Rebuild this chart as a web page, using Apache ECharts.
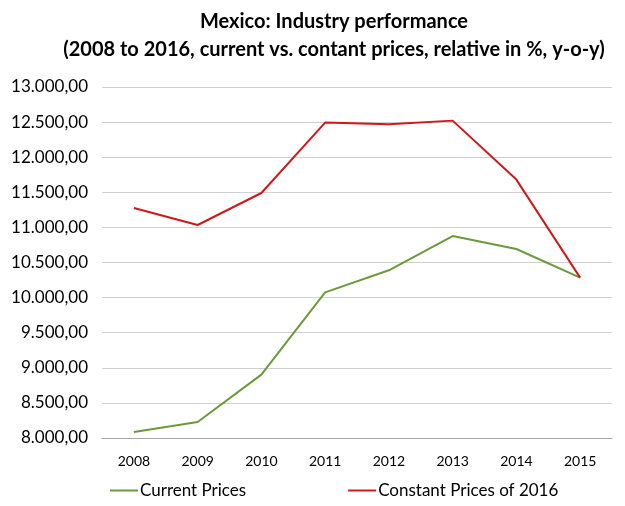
<!DOCTYPE html>
<html>
<head>
<meta charset="utf-8">
<script src="https://cdn.jsdelivr.net/npm/echarts@6/dist/echarts.min.js"></script>
<style>
  html, body { margin: 0; padding: 0; background: #fff; }
  #chart { width: 625px; height: 506px; }
</style>
</head>
<body>
<div id="chart"></div>
<script>
// data
var years = ['2008', '2009', '2010', '2011', '2012', '2013', '2014', '2015'];
var currentPrices = [8085, 8228, 8903, 10075, 10389, 10877, 10692, 10285];
var constantPrices = [11276, 11034, 11490, 12493, 12469, 12521, 11681, 10285];

// 13000 -> "13.000,00"
function fmt(v) {
  var s = Math.round(v).toString().replace(/\B(?=(\d{3})+(?!\d))/g, '.');
  return s + ',00';
}

var chart = echarts.init(document.getElementById('chart'));
chart.setOption({
  animation: false,
  textStyle: { fontFamily: 'Lato' },
  title: {
    text: 'Mexico: Industry performance\n(2008 to 2016, current vs. contant prices, relative in %, y-o-y)',
    left: 329,
    textAlign: 'center',
    top: 3,
    textStyle: { fontSize: 20, fontWeight: 'bold', color: '#000', lineHeight: 28, fontFamily: 'Lato' }
  },
  legend: {
    bottom: 2,
    left: 105,
    itemGap: 102,
    itemWidth: 28,
    itemHeight: 2,
    icon: 'rect',
    textStyle: { fontSize: 17, color: '#000', padding: [0, 0, 0, -3] },
    data: ['Current Prices', 'Constant Prices of 2016']
  },
  grid: { left: 102, right: 13, top: 87, bottom: 68 },
  xAxis: {
    type: 'category',
    data: years,
    axisLine: { lineStyle: { color: '#a6a6a6' } },
    axisTick: { length: 5, lineStyle: { color: '#a6a6a6' } },
    axisLabel: { color: '#000', fontSize: 14, margin: 16 }
  },
  yAxis: {
    type: 'value',
    min: 8000,
    max: 13000,
    interval: 500,
    axisLine: { show: false },
    axisTick: { show: false },
    axisLabel: { color: '#000', fontSize: 17, margin: 14, formatter: fmt },
    splitLine: { lineStyle: { color: '#d0d0d0', width: 1 } }
  },
  series: [
    {
      name: 'Current Prices',
      type: 'line',
      data: currentPrices,
      symbol: 'none',
      itemStyle: { color: '#6b9a3a' },
      lineStyle: { color: '#6b9a3a', width: 2 }
    },
    {
      name: 'Constant Prices of 2016',
      type: 'line',
      data: constantPrices,
      symbol: 'none',
      itemStyle: { color: '#d01818' },
      lineStyle: { color: '#d01818', width: 2 }
    }
  ]
});
</script>
</body>
</html>
